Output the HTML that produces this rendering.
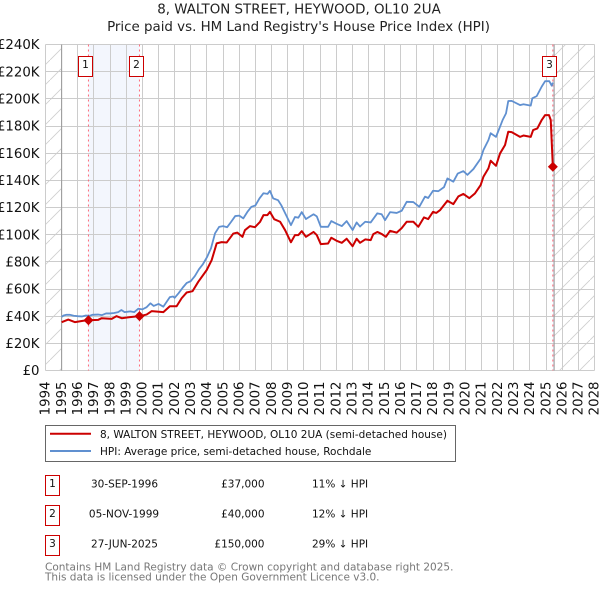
<!DOCTYPE html>
<html lang="en">
<head>
<meta charset="utf-8">
<title>8, WALTON STREET, HEYWOOD, OL10 2UA</title>
<style>
html,body{margin:0;padding:0;background:#fff;width:600px;height:590px;overflow:hidden}
svg{display:block;font-family:"DejaVu Sans","Liberation Sans",sans-serif}
</style>
</head>
<body>
<svg id="chart" xmlns="http://www.w3.org/2000/svg" width="600" height="590" viewBox="0 0 600 590">
  <defs>
    <pattern id="hatch" patternUnits="userSpaceOnUse" width="20" height="20" x="10" y="0">
      <line x1="-1" y1="21" x2="21" y2="-1" stroke="#d0d0d0" stroke-width="0.9"/>
    </pattern>
  </defs>
  <text x="299" y="13.5" text-anchor="middle" font-size="13.4" fill="#222">8, WALTON STREET, HEYWOOD, OL10 2UA</text>
  <text x="298.5" y="31" text-anchor="middle" font-size="13.4" fill="#222">Price paid vs. HM Land Registry's House Price Index (HPI)</text>
  <g id="plot"></g>

  <g>
    <rect x="45.5" y="425.5" width="410" height="36" fill="#fff" stroke="#666" stroke-width="1"/>
    <line x1="50" y1="433.7" x2="91" y2="433.7" stroke="#cc0000" stroke-width="2"/>
    <text x="100" y="438" font-size="10.5" fill="#111">8, WALTON STREET, HEYWOOD, OL10 2UA (semi-detached house)</text>
    <line x1="50" y1="451" x2="91" y2="451" stroke="#6090d0" stroke-width="2"/>
    <text x="100" y="455" font-size="10.5" fill="#111">HPI: Average price, semi-detached house, Rochdale</text>
  </g>

  <g font-size="10.5" fill="#111">
    <g>
      <rect x="45.5" y="475.5" width="14" height="20" fill="#fff" stroke="#cc0000" stroke-width="1"/>
      <text x="52.5" y="487" text-anchor="middle">1</text>
      <text x="124.5" y="487.5" text-anchor="middle">30-SEP-1996</text>
      <text x="264.5" y="487.5" text-anchor="end">£37,000</text>
      <text x="312" y="487.5">11% ↓ HPI</text>
    </g>
    <g>
      <rect x="45.5" y="505.5" width="14" height="20" fill="#fff" stroke="#cc0000" stroke-width="1"/>
      <text x="52.5" y="517" text-anchor="middle">2</text>
      <text x="124" y="517.5" text-anchor="middle">05-NOV-1999</text>
      <text x="264.5" y="517.5" text-anchor="end">£40,000</text>
      <text x="312" y="517.5">12% ↓ HPI</text>
    </g>
    <g>
      <rect x="45.5" y="535.5" width="14" height="20" fill="#fff" stroke="#cc0000" stroke-width="1"/>
      <text x="52.5" y="547" text-anchor="middle">3</text>
      <text x="124.5" y="547.5" text-anchor="middle">27-JUN-2025</text>
      <text x="264.5" y="547.5" text-anchor="end">£150,000</text>
      <text x="312" y="547.5">29% ↓ HPI</text>
    </g>
  </g>

  <g font-size="10.5" fill="#777">
    <text x="45" y="570.5">Contains HM Land Registry data © Crown copyright and database right 2025.</text>
    <text x="45" y="580.5">This data is licensed under the Open Government Licence v3.0.</text>
  </g>
</svg>

<script>
const yearTicks = [1994,1995,1996,1997,1998,1999,2000,2001,2002,2003,2004,2005,2006,2007,2008,2009,2010,2011,2012,2013,2014,2015,2016,2017,2018,2019,2020,2021,2022,2023,2024,2025,2026,2027,2028];
const valueTicks = [0,20,40,60,80,100,120,140,160,180,200,220,240];
const valueTickLabels = ['£0','£20K','£40K','£60K','£80K','£100K','£120K','£140K','£160K','£180K','£200K','£220K','£240K'];

const hpiYears = [1995,1995.12,1995.3,1995.5,1995.75,1996,1996.25,1996.5,1996.75,1996.9,1997.25,1997.5,1997.75,1998,1998.25,1998.5,1998.7,1998.9,1999.25,1999.5,1999.75,2000,2000.25,2000.5,2000.7,2001,2001.3,2001.7,2001.9,2002,2002.25,2002.5,2002.75,2003,2003.25,2003.5,2003.75,2004,2004.25,2004.5,2004.75,2005,2005.25,2005.5,2005.75,2006,2006.25,2006.5,2006.75,2007,2007.25,2007.5,2007.75,2007.9,2008.1,2008.4,2008.6,2008.9,2009.2,2009.45,2009.66,2009.87,2010.13,2010.6,2010.8,2011.05,2011.5,2011.7,2012.03,2012.35,2012.65,2013.02,2013.27,2013.48,2013.8,2014.14,2014.55,2014.82,2015.03,2015.34,2015.75,2016.06,2016.37,2016.78,2017.15,2017.5,2017.7,2018,2018.33,2018.68,2018.89,2019.26,2019.53,2019.88,2020.13,2020.5,2020.95,2021.12,2021.43,2021.57,2021.9,2022.15,2022.31,2022.52,2022.66,2022.87,2023.39,2023.6,2024.05,2024.15,2024.42,2024.73,2024.94,2025.2,2025.35,2025.42];
const hpiValues = [39.5,40.5,41,41,40.3,40,39.8,40.5,40.3,41,41.2,40.8,42,42,42.3,43,44.5,43,43.5,43,45.5,45,46.5,49.5,47.5,49,47,54,54.5,53.5,57,61,64.5,65.8,69.5,74.5,78.3,83.4,90,101,105.7,106.3,105.5,109.5,113.7,114,112,116.7,120.5,121.5,126.7,130.5,130,132.3,126.7,125.4,121.7,114.4,107,113,112.5,116.6,111.5,115,113.5,105.8,105.8,110,108,106.3,110,103.4,109,106,109.5,109,115.7,115,110.7,116.6,116,117.6,124.2,124,120.5,128,127,132.3,132,135,141.4,139,145,146.8,144,148.3,156,162.3,169.6,174.7,172,179.5,184.4,189.3,198.4,198.5,195.4,196,195,200.4,202,209,213,213,209.7,212];

const priceYears = [1995,1995.41,1995.83,1996.34,1996.66,1997.27,1997.48,1998.1,1998.4,1998.72,1999.23,1999.82,2000.26,2000.57,2001.3,2001.7,2002.12,2002.43,2002.74,2003.11,2003.46,2003.98,2004.29,2004.6,2004.91,2005.22,2005.63,2005.88,2006.2,2006.35,2006.66,2006.97,2007.29,2007.5,2007.74,2007.9,2008.16,2008.53,2008.84,2009.2,2009.45,2009.66,2009.87,2010.13,2010.6,2010.8,2011.05,2011.5,2011.7,2012.03,2012.35,2012.65,2013.02,2013.27,2013.48,2013.8,2014.14,2014.3,2014.55,2014.82,2015.08,2015.34,2015.75,2016.06,2016.37,2016.78,2017.09,2017.44,2017.7,2018,2018.2,2018.43,2018.89,2019.26,2019.57,2019.88,2020.25,2020.6,2020.95,2021.12,2021.43,2021.57,2021.9,2022.15,2022.46,2022.66,2022.87,2023.39,2023.6,2024.05,2024.2,2024.46,2024.73,2024.94,2025.18,2025.29,2025.42];
const priceValues = [35.6,37.5,35.6,36.6,37,37.3,38.5,38,40,38.5,39.3,40,41.2,43.7,43,47.3,47.3,53.2,57.4,58.4,65.3,73.9,81.2,93.6,94.5,94.2,100.8,101.5,98.4,103.3,106.3,105.5,109.5,114.4,114.4,116.8,111.4,109.5,103.3,94.4,99.7,99.7,102.6,98.4,102,99.7,93,93.5,97.7,95.5,94,97,91.5,97,94,96.5,96,100.4,102,100.5,98.4,102.8,101.5,104.8,109.5,109.5,105.8,112.7,111.5,116.8,116,118,125,122.5,128.2,130,126.9,130.4,136.5,142.6,148.8,154.4,150.7,159.8,166,175.8,175.5,172,173,172,177,178.2,184.4,188,188,184.4,150];

const saleYears = [1996.66,1999.82,2025.42];
const saleValues = [37,40,150];
const saleLabels = ['1','2','3'];

const SVG_NS = 'http://www.w3.org/2000/svg';
const plot = document.getElementById('plot');
const plotLeft = 45.5, plotRight = 594.5, plotTop = 44.5, plotBottom = 370.5;
const dataStartYear = 1995, dataEndYear = 2025.5;

function xScale(year){ return plotLeft + (year - 1994) * (plotRight - plotLeft) / 34; }
function yScale(v){ return plotBottom - v * (plotBottom - plotTop) / 240; }
function make(tag, attrs){
  const el = document.createElementNS(SVG_NS, tag);
  for (const k in attrs) el.setAttribute(k, attrs[k]);
  plot.appendChild(el);
  return el;
}
function polyPoints(xs, ys){
  return xs.map(function(yr, i){ return xScale(yr).toFixed(2) + ',' + yScale(ys[i]).toFixed(2); }).join(' ');
}

// shaded span between first two sales
const span = make('rect', {x: xScale(saleYears[0]), y: plotTop, width: xScale(saleYears[1]) - xScale(saleYears[0]), height: plotBottom - plotTop, fill: '#f3f6fd'});



// shaded sliver from the last sale to the end of the data
const spanEnd = make('rect', {x: xScale(saleYears[2]), y: plotTop, width: xScale(dataEndYear) - xScale(saleYears[2]), height: plotBottom - plotTop, fill: '#e8effb'});



// hatched no-data regions
const hatchLeft = make('rect', {x: plotLeft, y: plotTop, width: xScale(dataStartYear) - plotLeft, height: plotBottom - plotTop, fill: 'url(#hatch)'});


const hatchRight = make('rect', {x: xScale(dataEndYear), y: plotTop, width: plotRight - xScale(dataEndYear), height: plotBottom - plotTop, fill: 'url(#hatch)'});



// grid + y labels
valueTicks.forEach(function(v, i){
  const yy = Math.round(yScale(v) - 0.5) + 0.5;
  const g = make('line', {x1: plotLeft, x2: plotRight, y1: yy, y2: yy, stroke: '#cccccc', 'stroke-width': 1});
  
  
  const t = make('text', {x: 39.5, y: yScale(v) + 4.7, 'text-anchor': 'end', 'font-size': 13.3, fill: '#111'});
  t.textContent = valueTickLabels[i];
  
  
});

// grid + x labels
yearTicks.forEach(function(yr){
  const xx = Math.round(xScale(yr) - 0.5) + 0.5;
  const g = make('line', {x1: xx, x2: xx, y1: plotTop, y2: plotBottom, stroke: '#cccccc', 'stroke-width': 1});
  
  
  const t = make('text', {'text-anchor': 'end', 'font-size': 13.3, fill: '#111', transform: 'translate(' + (xScale(yr) + 4.2) + ',381.5) rotate(-90)'});
  t.textContent = String(yr);
  
  
});

// data range borders
const borderLeft = make('line', {x1: xScale(dataStartYear), x2: xScale(dataStartYear), y1: plotTop, y2: plotBottom, stroke: '#999999', 'stroke-width': 1});


const borderRight = make('line', {x1: xScale(dataEndYear), x2: xScale(dataEndYear), y1: plotTop, y2: plotBottom, stroke: '#999999', 'stroke-width': 1});



// sale vertical markers
saleYears.forEach(function(yr){
  const l = make('line', {x1: xScale(yr), x2: xScale(yr), y1: plotTop, y2: plotBottom, stroke: '#ff6a7a', 'stroke-width': 1, 'stroke-dasharray': '2,3'});
  
  
});

// series
const hpiLine = make('polyline', {points: polyPoints(hpiYears, hpiValues), fill: 'none', stroke: '#6090d0', 'stroke-width': 1.8, 'stroke-linejoin': 'round'});


const priceLine = make('polyline', {points: polyPoints(priceYears, priceValues), fill: 'none', stroke: '#cc0000', 'stroke-width': 2, 'stroke-linejoin': 'round'});



// sale diamonds and badges
saleYears.forEach(function(yr, i){
  const cx = xScale(yr), cy = yScale(saleValues[i]), r = 5;
  const d = make('polygon', {points: (cx - r) + ',' + cy + ' ' + cx + ',' + (cy - r) + ' ' + (cx + r) + ',' + cy + ' ' + cx + ',' + (cy + r), fill: '#cc0000'});
  
  
  const bx = Math.floor(cx - 10) + 0.5;
  const b = make('rect', {x: bx, y: 56.5, width: 14, height: 20, fill: '#fff', stroke: '#cc0000', 'stroke-width': 1});
  
  
  const t = make('text', {x: bx + 7, y: 68, 'text-anchor': 'middle', 'font-size': 10.5, fill: '#111'});
  t.textContent = saleLabels[i];
  
  
});
</script>
</body>
</html>
